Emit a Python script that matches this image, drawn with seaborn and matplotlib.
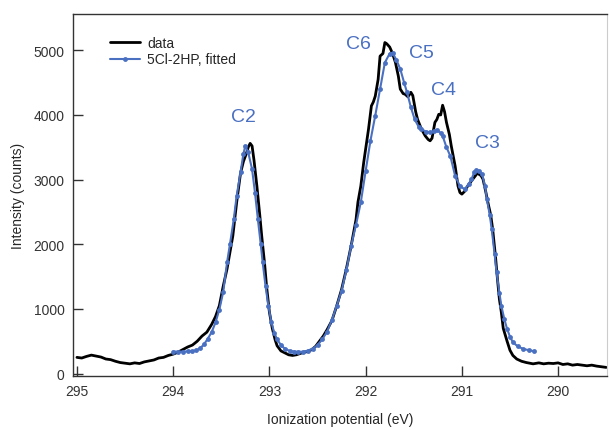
import numpy as np
import pandas as pd
import seaborn as sns
import matplotlib.pyplot as plt

# measured spectrum (ionization potential in eV, intensity in counts)
data_ev = [295.00, 294.95, 294.90, 294.85, 294.80, 294.75, 294.70, 294.65, 294.60, 294.55,
           294.50, 294.45, 294.40, 294.35, 294.30, 294.25, 294.20, 294.15, 294.10, 294.05,
           294.00, 293.95, 293.90, 293.85, 293.80, 293.75, 293.70, 293.65, 293.60, 293.56,
           293.52, 293.48, 293.44, 293.41, 293.38, 293.34, 293.30, 293.27, 293.24, 293.22,
           293.20, 293.18, 293.16, 293.13, 293.10, 293.08, 293.05, 293.03, 293.00, 292.97,
           292.94, 292.92, 292.88, 292.84, 292.80, 292.76, 292.72, 292.68, 292.64, 292.60,
           292.56, 292.52, 292.48, 292.44, 292.40, 292.35, 292.30, 292.25, 292.20, 292.15,
           292.10, 292.08, 292.05, 292.02, 291.97, 291.94, 291.92, 291.90, 291.87, 291.85,
           291.82, 291.80, 291.78, 291.75, 291.72, 291.69, 291.66, 291.64, 291.61, 291.59,
           291.56, 291.53, 291.51, 291.48, 291.46, 291.42, 291.38, 291.35, 291.33, 291.31,
           291.28, 291.26, 291.24, 291.22, 291.20, 291.18, 291.16, 291.13, 291.11, 291.07,
           291.04, 291.02, 291.00, 290.97, 290.94, 290.90, 290.86, 290.84, 290.82, 290.80,
           290.78, 290.75, 290.73, 290.70, 290.68, 290.65, 290.63, 290.61, 290.59, 290.57,
           290.55, 290.53, 290.50, 290.47, 290.43, 290.38, 290.33, 290.26, 290.20, 290.15,
           290.10, 290.05, 290.00, 289.95, 289.90, 289.85, 289.80, 289.75, 289.70, 289.65,
           289.60, 289.55, 289.50]
data_counts = [250, 240, 265, 285, 270, 255, 225, 215, 190, 170,
               160, 150, 165, 155, 180, 195, 210, 240, 250, 280,
               300, 330, 370, 410, 440, 500, 580, 640, 760, 880,
               1050, 1350, 1620, 1880, 2130, 2650, 3100, 3280, 3400, 3500,
               3560, 3520, 3300, 2900, 2450, 2130, 1700, 1357, 950, 700,
               520, 430, 350, 320, 290, 280, 290, 310, 330, 340,
               370, 420, 500, 580, 680, 820, 1050, 1300, 1620, 1980,
               2380, 2650, 2900, 3265, 3780, 4140, 4200, 4290, 4550, 4910,
               4950, 5120, 5100, 5050, 4950, 4810, 4600, 4400, 4330, 4320,
               4280, 4350, 4300, 4050, 3930, 3780, 3675, 3620, 3600, 3640,
               3885, 3930, 4010, 4000, 4150, 4050, 3885, 3700, 3520, 3210,
               2900, 2800, 2775, 2820, 2900, 2980, 3057, 3100, 3080, 3060,
               3005, 2800, 2650, 2450, 2235, 1800, 1460, 1150, 950, 700,
               600, 500, 360, 280, 225, 190, 170, 150, 165, 150,
               160, 155, 165, 140, 150, 130, 140, 130, 120, 130,
               115, 105, 95]

# fitted curve for 5Cl-2HP
fit_ev = [294.00, 293.95, 293.90, 293.85, 293.80, 293.76, 293.72, 293.68, 293.64, 293.60,
          293.56, 293.52, 293.48, 293.44, 293.41, 293.37, 293.34, 293.30, 293.27, 293.25,
          293.22, 293.18, 293.15, 293.12, 293.09, 293.07, 293.04, 293.01, 292.98, 292.95,
          292.92, 292.88, 292.84, 292.79, 292.74, 292.70, 292.65, 292.60, 292.55, 292.50,
          292.45, 292.40, 292.35, 292.30, 292.25, 292.20, 292.15, 292.10, 292.05, 292.00,
          291.95, 291.90, 291.85, 291.80, 291.75, 291.72, 291.68, 291.64, 291.60, 291.57,
          291.53, 291.49, 291.45, 291.42, 291.37, 291.33, 291.29, 291.26, 291.22, 291.20,
          291.16, 291.12, 291.07, 291.02, 290.97, 290.93, 290.90, 290.87, 290.85, 290.82,
          290.79, 290.76, 290.74, 290.71, 290.69, 290.66, 290.64, 290.61, 290.59, 290.56,
          290.53, 290.50, 290.47, 290.42, 290.36, 290.30, 290.25]
fit_counts = [340, 340, 340, 342, 348, 360, 390, 450, 540, 640,
              790, 990, 1260, 1720, 2000, 2390, 2750, 3110, 3400, 3520,
              3420, 3160, 2800, 2390, 2000, 1720, 1350, 1040, 800, 630,
              530, 440, 385, 350, 340, 337, 337, 355, 385, 440,
              530, 650, 830, 1050, 1280, 1600, 1980, 2300, 2650, 3130,
              3600, 3990, 4400, 4810, 4950, 4960, 4850, 4710, 4500, 4350,
              4120, 3930, 3820, 3780, 3740, 3730, 3750, 3770, 3720, 3675,
              3500, 3365, 3057, 2900, 2850, 2930, 3005, 3120, 3150, 3130,
              3085, 2900, 2700, 2450, 2235, 1850, 1570, 1250, 1050, 850,
              690, 570, 485, 420, 380, 360, 345]

# peak labels
peak_names = ["C2", "C6", "C5", "C4", "C3"]
peak_ev = [293.27, 292.07, 291.42, 291.19, 290.73]
peak_counts = [3980, 5110, 4970, 4400, 3580]

blue = "#4a70c2"

sns.set_style("ticks")
plt.rcParams['font.family'] = ['Liberation Sans', 'DejaVu Sans']

df_data = pd.DataFrame({"ev": data_ev, "counts": data_counts})
df_fit = pd.DataFrame({"ev": fit_ev, "counts": fit_counts})

fig = plt.figure(figsize=(6.09, 4.31), dpi=100)
ax = fig.add_axes([0.120, 0.125, 0.877, 0.840])

sns.lineplot(data=df_data, x="ev", y="counts", ax=ax, color="black",
             linewidth=2.0, sort=False, estimator=None, label="data")
sns.lineplot(data=df_fit, x="ev", y="counts", ax=ax, color=blue,
             linewidth=1.5, marker="o", markersize=3.5, markeredgewidth=0,
             sort=False, estimator=None, label="5Cl-2HP, fitted")

for name, x, y in zip(peak_names, peak_ev, peak_counts):
    ax.text(x, y, name, color=blue, fontsize=14, ha="center", va="center")

ax.set_xlim(295.04, 289.49)
ax.set_ylim(-40, 5560)
ax.set_xticks([295, 294, 293, 292, 291, 290])
ax.set_yticks([0, 1000, 2000, 3000, 4000, 5000])
ax.tick_params(direction="in", length=7, width=1, labelsize=10, pad=6, colors="#333333")
ax.set_xlabel("Ionization potential (eV)", fontsize=10, labelpad=10)
ax.set_ylabel("Intensity (counts)", fontsize=10, labelpad=6)

for side in ["left", "bottom", "top"]:
    ax.spines[side].set_color("#333333")
    ax.spines[side].set_linewidth(1.0)
ax.spines["right"].set_color("#cccccc")

ax.legend(loc="upper left", bbox_to_anchor=(0.045, 0.975), frameon=False,
          fontsize=10, handlelength=2.2, handletextpad=0.5, labelspacing=0.2)

fig.savefig("out.png", dpi=100)
